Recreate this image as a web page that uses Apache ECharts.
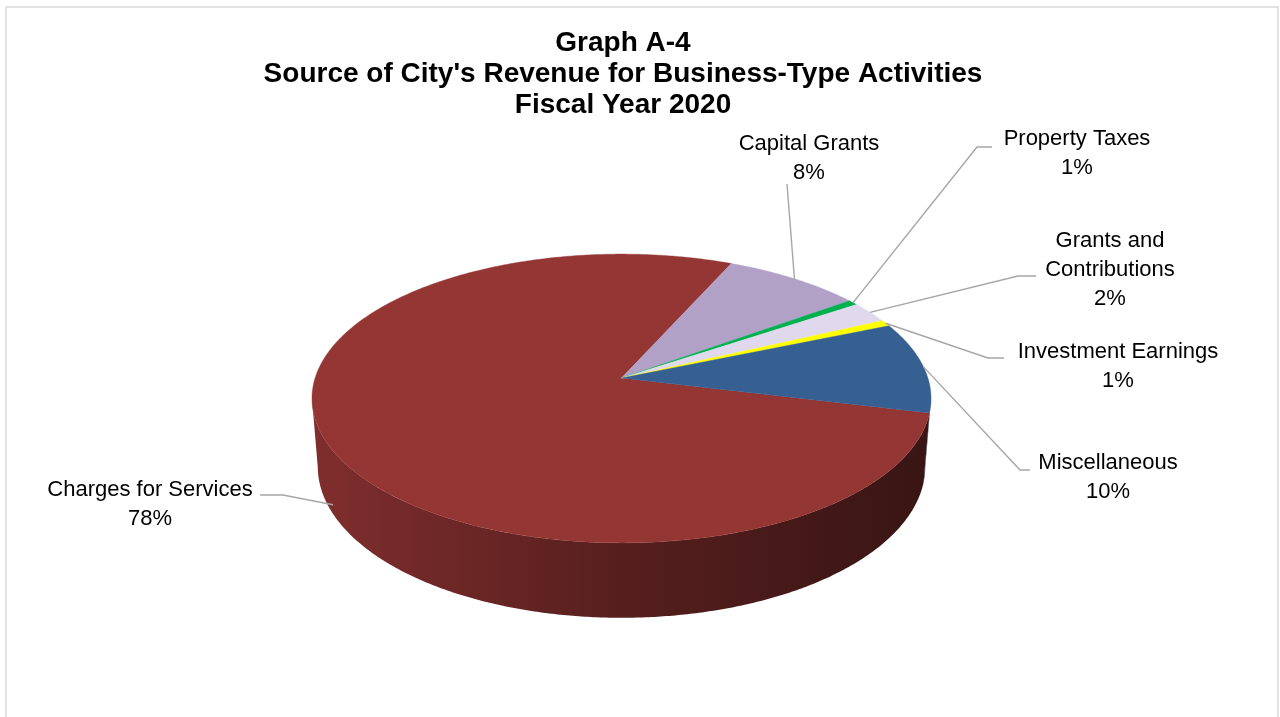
<!DOCTYPE html>
<html><head><meta charset="utf-8">
<script src="https://cdn.jsdelivr.net/npm/echarts@6/dist/echarts.min.js"></script>
<style>html,body{margin:0;padding:0;background:#fff}#c{width:1280px;height:717px}</style>
</head><body><div id="c"></div>
<script>
// ---- data ----
const categories = ['Charges for Services', 'Capital Grants', 'Property Taxes', 'Grants and Contributions', 'Investment Earnings', 'Miscellaneous'];
const labelNames = ['Charges for Services', 'Capital Grants', 'Property Taxes', 'Grants and\nContributions', 'Investment Earnings', 'Miscellaneous'];
const values = [77.8, 8.3, 0.6, 2.4, 0.7, 10.2];
const titleLines = ['Graph A-4', "Source of City's Revenue for Business-Type Activities", 'Fiscal Year 2020'];

// ---- style / layout ----
const colors = ['#943634', '#b2a1c7', '#00b050', '#e0d9ed', '#ffff00', '#376092'];
const PIE = { cx: 621.5, cy: 378, k: 306.4, tilt: 27.5, dist: 6.25, depth: 0.253, start: 103.8 };
const labelPos = [[150, 504], [809, 158], [1077, 153], [1110, 270], [1118, 366], [1108, 477]];
const leaderPts = [[[260, 495], [283, 495]], [[787, 184]], [[992, 147], [977, 147]], [[1036, 276], [1018, 276]], [[1004, 358], [988, 358]], [[1030, 470], [1020, 470]]];
const anchorDepth = [0.85, 0, 0, 0, 0, 0];
const FONT = '"Liberation Sans", Arial, sans-serif';

const total = values.reduce((a, b) => a + b, 0);
const cum = []; let acc = 0; values.forEach(v => { cum.push(acc); acc += v; });

const sA = Math.sin(PIE.tilt * Math.PI / 180), cA = Math.cos(PIE.tilt * Math.PI / 180);
function project(deg, yf) {
  const t = deg * Math.PI / 180;
  const X = Math.sin(t), Z = Math.cos(t), Y = -PIE.depth * yf;
  const u = Z * sA + Y * cA, w = Z * cA - Y * sA;
  const s = 1 / (1 + w / PIE.dist);
  return [PIE.cx + PIE.k * X * s, PIE.cy - PIE.k * u * s];
}
const silh = Math.acos(-cA / PIE.dist) * 180 / Math.PI; // visible wall from silh to 360-silh

function shade(hex, f) {
  const n = parseInt(hex.slice(1), 16);
  const r = Math.round(((n >> 16) & 255) * f), g = Math.round(((n >> 8) & 255) * f), b = Math.round((n & 255) * f);
  return 'rgb(' + r + ',' + g + ',' + b + ')';
}
function arcPts(a, b, yf) {
  const pts = []; const n = Math.max(2, Math.ceil((b - a) / 0.5) + 1);
  for (let j = 0; j < n; j++) pts.push(project(a + (b - a) * j / (n - 1), yf));
  return pts;
}

function renderItem(params, api) {
  const i = params.dataIndex;
  const v = api.value(0);
  const a0 = PIE.start + cum[i] / total * 360;
  const a1 = a0 + v / total * 360;
  const children = [];
  // side walls
  for (let sh = -360; sh <= 360; sh += 360) {
    const lo = Math.max(a0, silh + sh), hi = Math.min(a1, 360 - silh + sh);
    if (hi > lo) {
      const top = arcPts(lo, hi, 0), bot = arcPts(lo, hi, 1).reverse();
      children.push({
        type: 'polygon', shape: { points: top.concat(bot) },
        style: {
          fill: {
            type: 'linear', x: PIE.cx - PIE.k, y: 0, x2: PIE.cx + PIE.k, y2: 0, global: true,
            colorStops: [{ offset: 0, color: shade(colors[i], 0.86) }, { offset: 0.5, color: shade(colors[i], 0.58) }, { offset: 1, color: shade(colors[i], 0.38) }]
          }
        }
      });
    }
  }
  // top face
  const topPts = [[PIE.cx, PIE.cy]].concat(arcPts(a0, a1, 0));
  children.push({ type: 'polygon', shape: { points: topPts }, style: { fill: colors[i], stroke: colors[i], lineWidth: 0.4 } });
  // leader line
  const anchor = project((a0 + a1) / 2, anchorDepth[i]);
  children.push({ type: 'polyline', z2: 10, shape: { points: leaderPts[i].concat([anchor]) }, style: { stroke: '#a6a6a6', lineWidth: 1.4, fill: null } });
  // label
  const pct = Math.round(v / total * 100);
  children.push({
    type: 'text', z2: 11, x: labelPos[i][0], y: labelPos[i][1],
    style: { text: labelNames[i] + '\n' + pct + '%', align: 'center', verticalAlign: 'middle', font: '22px ' + FONT, fill: '#000', lineHeight: 29 }
  });
  return { type: 'group', children: children };
}

const chart = echarts.init(document.getElementById('c'), null, { renderer: 'canvas' });
chart.setOption({
  animation: false,
  backgroundColor: '#ffffff',
  title: {
    text: titleLines.join('\n'), left: 623, top: 28, textAlign: 'center', padding: 0,
    textStyle: { fontFamily: FONT, fontWeight: 'bold', fontSize: 28, lineHeight: 31, color: '#000' }
  },
  graphic: [{ type: 'rect', shape: { x: 6, y: 7, width: 1272, height: 730 }, style: { fill: null, stroke: '#d9d9d9', lineWidth: 1.5 }, silent: true }],
  series: [{
    type: 'custom', coordinateSystem: 'none', renderItem: renderItem,
    data: values.map((v, i) => ({ name: categories[i], value: [v] }))
  }]
});
</script>
</body></html>
